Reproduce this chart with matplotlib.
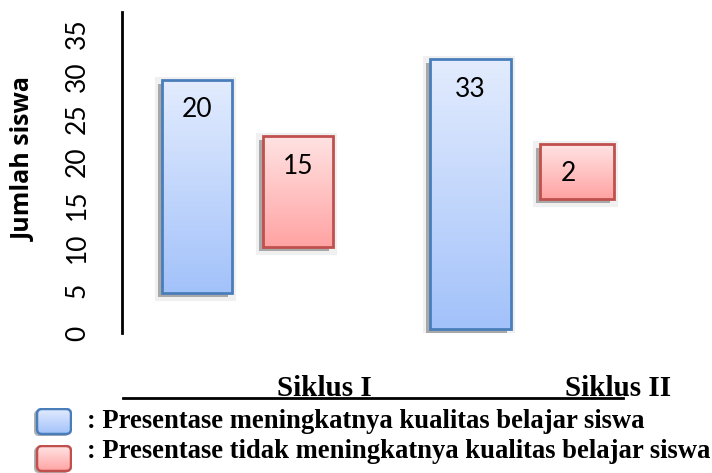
import numpy as np
import matplotlib
matplotlib.use("Agg")
import matplotlib.pyplot as plt
from matplotlib.patches import Rectangle, FancyBboxPatch
from matplotlib.lines import Line2D
from matplotlib.transforms import offset_copy


# data
categories = ["Siklus I", "Siklus II"]
series_names = [
    ": Presentase meningkatnya kualitas belajar siswa",
    ": Presentase tidak meningkatnya kualitas belajar siswa",
]
# floating bars: [Siklus I, Siklus II]
naik_bottom = [4.7, 0.5]
naik_top = [29.6, 32.0]
naik_label = [20, 33]
tidak_bottom = [10.0, 15.7]
tidak_top = [23.0, 22.1]
tidak_label = [15, 2]
y_ticks = [0, 5, 10, 15, 20, 25, 30, 35]

# layout / style
W, H = 712, 473
group_x = [2.25, 7.2]
half_gap = [0.9, 0.95]
blue_w = [1.25, 1.45]
red_w = [1.25, 1.33]
blue_grad = ("#e3ecfe", "#a3c2fa")
red_grad = ("#ffe3e3", "#ffa3a3")
blue_edge = "#4a7ebb"
red_edge = "#c0504d"
SANS = ["Lato", "DejaVu Sans"]
SANS_BOLD = ["Open Sans", "DejaVu Sans"]
SERIF = ["Liberation Serif", "DejaVu Serif"]


def make_grad(colors, n=100):
    top = np.array(matplotlib.colors.to_rgb(colors[0]))
    bot = np.array(matplotlib.colors.to_rgb(colors[1]))
    t = np.linspace(0, 1, n)[:, None]
    return (top * (1 - t) + bot * t)[:, None, :]


def gradient_bar(ax, xc, w, y0, y1, colors, edge):
    fig = ax.figure
    x0 = xc - w / 2
    halo = offset_copy(ax.transData, fig=fig, x=-2, y=-2, units="dots")
    ax.add_patch(Rectangle((x0, y0), w, y1 - y0, transform=halo,
                           facecolor="#f0f0f0", edgecolor="#f0f0f0",
                           linewidth=8, zorder=0.5))
    sh = offset_copy(ax.transData, fig=fig, x=-4, y=-4, units="dots")
    ax.add_patch(Rectangle((x0, y0), w, y1 - y0, transform=sh,
                           facecolor="#a8a8a8", edgecolor="none", zorder=1))
    rect = Rectangle((x0, y0), w, y1 - y0, facecolor="none",
                     edgecolor=edge, linewidth=2, zorder=3)
    ax.add_patch(rect)
    im = ax.imshow(make_grad(colors), extent=(x0, x0 + w, y0, y1), origin="upper",
                   aspect="auto", zorder=2, interpolation="bilinear")
    im.set_clip_path(rect)


def legend_box(fig, x, y, w, h, colors, edge):
    # x, y, w, h in pixels (y from top)
    bx = fig.add_axes([(x - 3) / W, 1 - (y + h + 3) / H, (w + 3) / W, (h + 3) / H])
    bx.set_xlim(-3, w)
    bx.set_ylim(-3, h)
    bx.axis("off")
    bx.add_patch(FancyBboxPatch((-3, -2), w, h, boxstyle="round,pad=0,rounding_size=5",
                                facecolor="#b0b0b0", edgecolor="none", zorder=1))
    p = FancyBboxPatch((0, 0), w - 1, h - 1, boxstyle="round,pad=0,rounding_size=5",
                       facecolor="none", edgecolor=edge, linewidth=1.8, zorder=3)
    bx.add_patch(p)
    im = bx.imshow(make_grad(colors, 50), extent=(0, w - 1, 0, h - 1), origin="upper",
                   aspect="auto", zorder=2)
    im.set_clip_path(p)


fig = plt.figure(figsize=(W / 100, H / 100), dpi=100)
ax = fig.add_axes([122 / W, (H - 333) / H, 558 / W, 321 / H])

for i in range(len(categories)):
    xb = group_x[i] - half_gap[i]
    gradient_bar(ax, xb, blue_w[i], naik_bottom[i], naik_top[i], blue_grad, blue_edge)
    ax.text(xb, naik_top[i] - 3.5, str(naik_label[i]),
            ha="center", va="center", fontsize=19, family=SANS, zorder=4)
    xr = group_x[i] + half_gap[i]
    gradient_bar(ax, xr, red_w[i], tidak_bottom[i], tidak_top[i], red_grad, red_edge)
    ax.text(xr - (0.15 if i == 1 else 0), tidak_top[i] - 3.5, str(tidak_label[i]),
            ha="center", va="center", fontsize=19, family=SANS, zorder=4)

ax.set_xlim(0, 10)
ax.set_ylim(0, 37.5)
ax.set_yticks(y_ticks)
ax.set_yticklabels([str(v) for v in y_ticks], rotation=90, va="center",
                   fontsize=19, family=SANS)
ax.tick_params(axis="y", length=0, pad=23)
ax.set_xticks([])
for s in ["top", "right", "bottom"]:
    ax.spines[s].set_visible(False)
ax.spines["left"].set_linewidth(2)
ax.set_ylabel("Jumlah siswa", fontsize=18, fontweight="bold", family=SANS_BOLD)
ax.yaxis.set_label_coords(-0.152, 0.542)

# category labels under the chart
fig.add_artist(Line2D([123 / W, 623 / W], [1 - 398 / H, 1 - 398 / H],
                      color="black", linewidth=2))
cat_left = [277, 565]
for name, xl in zip(categories, cat_left):
    fig.text(xl / W, 1 - 396 / H, name, ha="left", va="baseline",
             fontsize=21, fontweight="bold", family=SERIF)

# legend
legend_box(fig, 37, 408, 35, 26, blue_grad, blue_edge)
legend_box(fig, 37, 445, 35, 26, red_grad, red_edge)
fig.text(87 / W, 1 - 428 / H, series_names[0], ha="left", va="baseline",
         fontsize=19.2, fontweight="bold", family=SERIF)
fig.text(87 / W, 1 - 458 / H, series_names[1], ha="left", va="baseline",
         fontsize=19.2, fontweight="bold", family=SERIF)

fig.savefig("out.png", dpi=100)
